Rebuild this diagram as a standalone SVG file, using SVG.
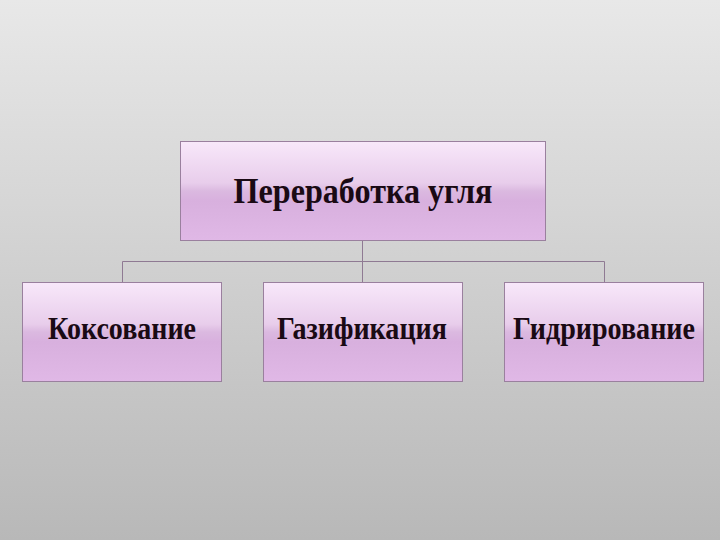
<svg xmlns="http://www.w3.org/2000/svg" width="720" height="540" viewBox="0 0 720 540">
<defs>
<linearGradient id="bg" x1="0" y1="0" x2="0" y2="1">
<stop offset="0" stop-color="#e8e8e8"/>
<stop offset="1" stop-color="#b8b8b8"/>
</linearGradient>
<linearGradient id="box" x1="0" y1="0" x2="0" y2="1">
<stop offset="0" stop-color="#f8e8fa"/>
<stop offset="0.42" stop-color="#e8cdeb"/>
<stop offset="0.5" stop-color="#dbb9e0"/>
<stop offset="0.6" stop-color="#d8b0de"/>
<stop offset="1" stop-color="#e0b8e6"/>
</linearGradient>
<style>
.node rect{fill:url(#box);stroke:#9a809e;stroke-width:1}
.node text{font-family:"Liberation Serif","Times New Roman",serif;font-weight:bold;fill:#1a0a14;text-anchor:middle}
.t1{font-size:36px}
.t2{font-size:31px}
#connectors path{fill:none;stroke:#8f7a93;stroke-width:1}
</style>
</defs>
<rect x="0" y="0" width="720" height="540" fill="url(#bg)"/>
<g id="connectors">
<path d="M362.5 240 V261.5 M122.5 282 V261.5 H604.5 V282 M362.5 261.5 V282"/>
</g>
<g id="root" class="node">
<rect x="180.5" y="141.5" width="365" height="99"/>
<text class="t1" x="363" y="203" textLength="259" lengthAdjust="spacingAndGlyphs">Переработка угля</text>
</g>
<g id="koks" class="node">
<rect x="22.5" y="282.5" width="199" height="99"/>
<text class="t2" x="122" y="339" textLength="148" lengthAdjust="spacingAndGlyphs">Коксование</text>
</g>
<g id="gaz" class="node">
<rect x="263.5" y="282.5" width="199" height="99"/>
<text class="t2" x="362" y="339" textLength="170" lengthAdjust="spacingAndGlyphs">Газификация</text>
</g>
<g id="gidr" class="node">
<rect x="504.5" y="282.5" width="199" height="99"/>
<text class="t2" x="604" y="339" textLength="182" lengthAdjust="spacingAndGlyphs">Гидрирование</text>
</g>
</svg>
